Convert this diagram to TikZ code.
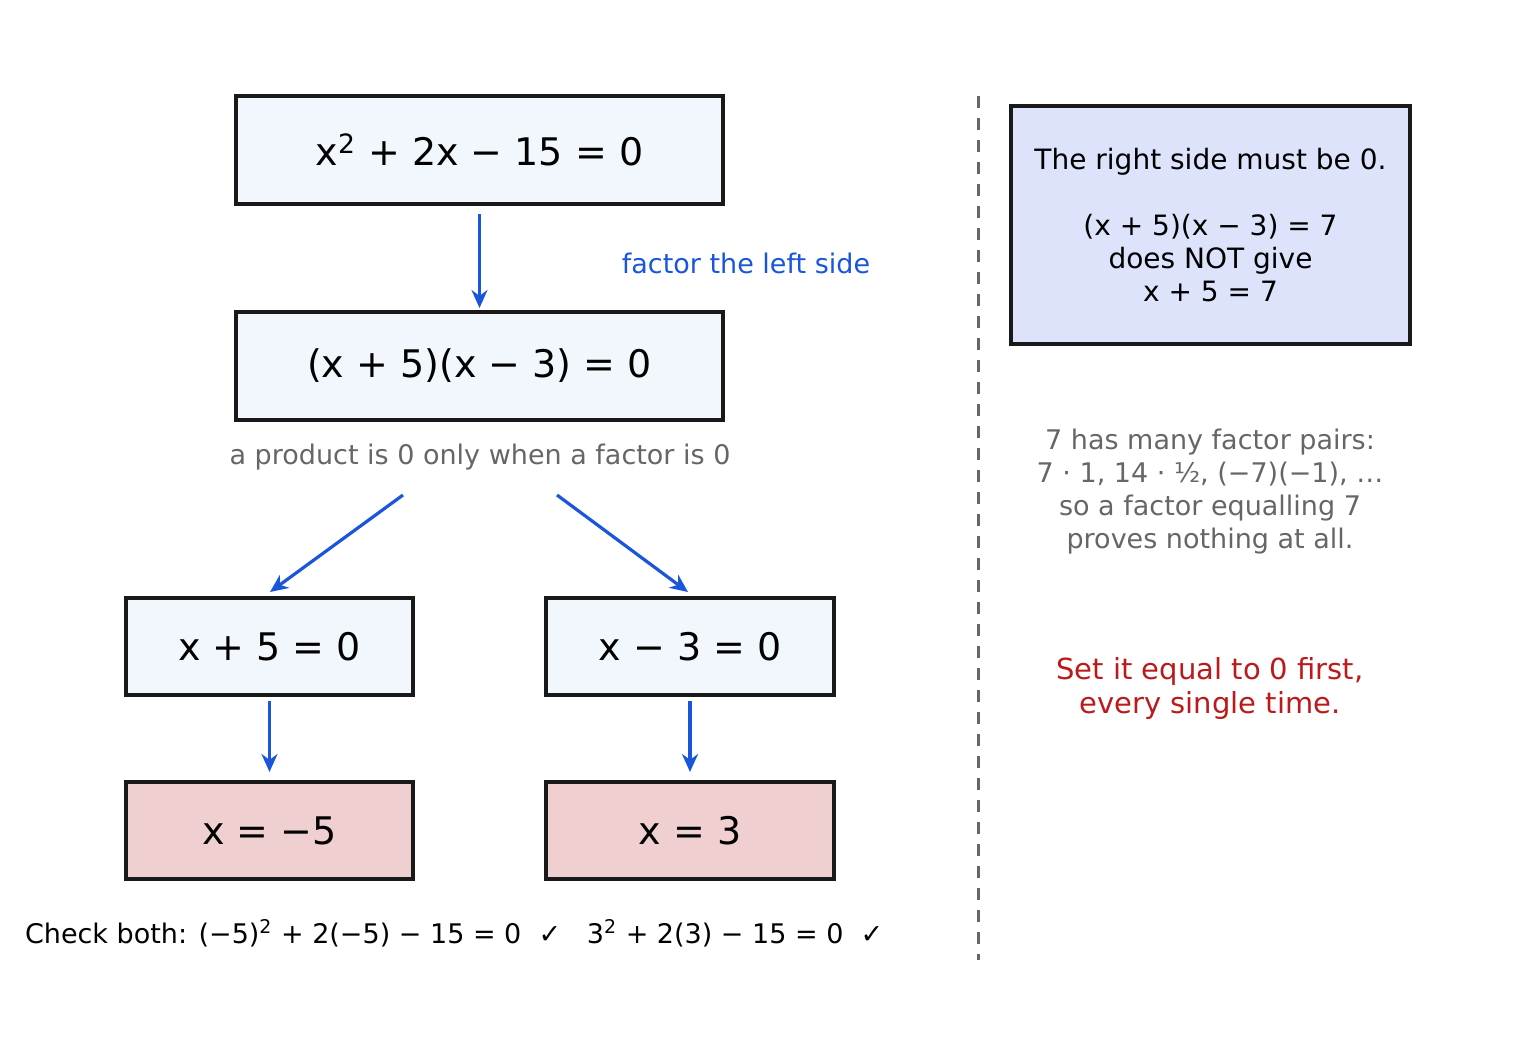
\documentclass[tikz,border=0pt]{standalone}
\usepackage{fontspec}
\setmainfont{DejaVu Sans}
\usetikzlibrary{arrows.meta,calc}
\definecolor{boxfill}{HTML}{F2F7FE}
\definecolor{resfill}{HTML}{EFCFCF}
\definecolor{notefill}{HTML}{DCE3FA}
\definecolor{flowblue}{HTML}{1A56DB}
\definecolor{notegray}{HTML}{666666}
\definecolor{warnred}{HTML}{BB1A1A}
\tikzset{
  stepbox/.style={draw=black!90,line width=2pt,fill=boxfill,inner sep=0pt,font=\fontsize{19}{23}\selectfont},
  result/.style={stepbox,fill=resfill},
  note/.style={draw=black!90,line width=2pt,fill=notefill,inner sep=0pt,align=center,font=\fontsize{14}{16.5}\selectfont},
  flow/.style={draw=flowblue,line width=1.6pt,-{Stealth[length=9pt,width=8pt]}},
  hint/.style={font=\fontsize{13.5}{16.5}\selectfont,align=center}
}
\begin{document}
\begin{tikzpicture}[x=0.5pt,y=-0.5pt]
    \useasboundingbox (0,0) rectangle (1531,1056);
    % the steps
    \node[stepbox,minimum width=243.5pt,minimum height=54pt] (eq) at (479.5,150) {x\textsuperscript{2} + 2x − 15 = 0};
    \node[stepbox,minimum width=243.5pt,minimum height=54pt] (fac) at (479.5,366) {(x + 5)(x − 3) = 0};
    \node[stepbox,minimum width=143.5pt,minimum height=48.5pt] (lf) at (269.5,646.5) {x + 5 = 0};
    \node[stepbox,minimum width=144pt,minimum height=48.5pt] (rf) at (690,646.5) {x − 3 = 0};
    \node[result,minimum width=143.5pt,minimum height=48.5pt] (ls) at (269.5,830.5) {x = −5};
    \node[result,minimum width=144pt,minimum height=48.5pt] (rs) at (690,830.5) {x = 3};
    % labels
    \node[hint,text=flowblue] (lbl) at (746,263) {factor the left side};
    \node[hint,text=notegray] (rule) at (480,457) {a product is 0 only when a factor is 0};
    \node[hint,anchor=west] (chk) at (18,933) {Check both: (−5)\textsuperscript{2} + 2(−5) − 15 = 0 \ ✓ \ \ 3\textsuperscript{2} + 2(3) − 15 = 0 \ ✓};
    % arrows
    \coordinate (a1) at (403,495); \coordinate (b1) at (270,592);
    \coordinate (a2) at (557,495); \coordinate (b2) at (688,592);
    \draw[flow] ($(eq.south)+(0,-4pt)$) -- ($(fac.north)+(0,1pt)$);
    \draw[flow] (a1) -- (b1);
    \draw[flow] (a2) -- (b2);
    \draw[flow] ($(lf.south)+(0,-2pt)$) -- ($(ls.north)+(0,4pt)$);
    \draw[flow] ($(rf.south)+(0,-2pt)$) -- ($(rs.north)+(0,4pt)$);
    % divider and notes
    \coordinate (d1) at (978,96); \coordinate (d2) at (978,960);
    \draw[notegray,line width=1.5pt,dash pattern=on 6pt off 5pt] (d1) -- (d2);
    \node[note,minimum width=199.5pt,minimum height=119pt] (warn) at (1210.5,225)
      {The right side must be 0.\\[16.5pt](x + 5)(x − 3) = 7\\does NOT give\\x + 5 = 7};
    \node[hint,text=notegray] (pairs) at (1210,492) {7 has many factor pairs:\\7 · 1, 14 · ½, (−7)(−1), …\\so a factor equalling 7\\proves nothing at all.};
    \node[hint,text=warnred,font=\fontsize{14.5}{17}\selectfont] (tip) at (1210,688) {Set it equal to 0 first,\\every single time.};
\end{tikzpicture}
\end{document}
